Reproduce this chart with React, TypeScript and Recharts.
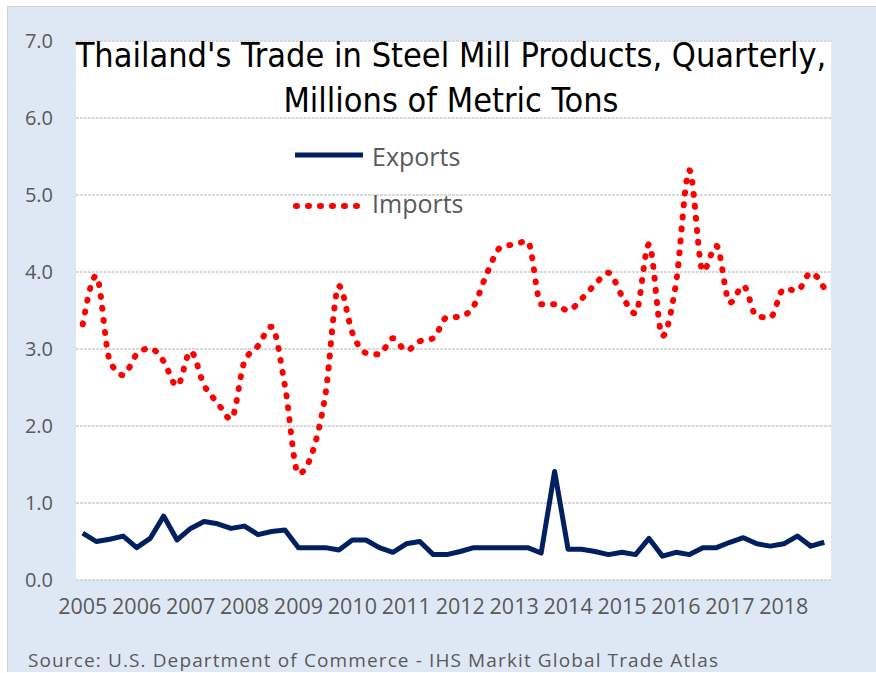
import React from "react";
import { LineChart, Line, XAxis, YAxis, CartesianGrid } from "recharts";

// quarterly, 2005 Q1 .. 2018 Q4, millions of metric tons
const years = [
  2005, 2006, 2007, 2008, 2009, 2010, 2011, 2012, 2013, 2014, 2015, 2016, 2017,
  2018,
];

const exportsMt = [
  0.61, 0.5, 0.53, 0.57, 0.42, 0.54, 0.83, 0.52, 0.67, 0.76, 0.73, 0.67, 0.7,
  0.59, 0.63, 0.65, 0.42, 0.42, 0.42, 0.39, 0.52, 0.52, 0.42, 0.36, 0.47, 0.5,
  0.33, 0.33, 0.37, 0.42, 0.42, 0.42, 0.42, 0.42, 0.35, 1.41, 0.4, 0.4, 0.37,
  0.33, 0.36, 0.33, 0.54, 0.31, 0.36, 0.33, 0.42, 0.42, 0.49, 0.55, 0.47, 0.44,
  0.47, 0.57, 0.44, 0.49,
];

const importsMt = [
  3.32, 3.95, 2.85, 2.66, 2.93, 3.01, 2.84, 2.52, 2.97, 2.53, 2.3, 2.09, 2.84,
  3.04, 3.29, 2.52, 1.38, 1.64, 2.41, 3.82, 3.21, 2.95, 2.93, 3.14, 2.98, 3.1,
  3.14, 3.41, 3.42, 3.56, 3.99, 4.32, 4.36, 4.4, 3.58, 3.58, 3.5, 3.65, 3.84,
  3.99, 3.69, 3.46, 4.36, 3.17, 3.85, 5.32, 4.01, 4.34, 3.6, 3.82, 3.42, 3.41,
  3.78, 3.76, 3.99, 3.79,
];

const yTicks = [0, 1, 2, 3, 4, 5, 6, 7];

const data = exportsMt.map((v, i) => ({
  q: i,
  label: `${years[Math.floor(i / 4)]} Q${(i % 4) + 1}`,
  exports: v,
  imports: importsMt[i],
}));

const yearTicks = years.map((_, i) => i * 4);

const W = 869;
const H = 666;
const grey = "#595959";
const tickFont = "'Open Sans', sans-serif";

export default function App() {
  return (
    <div
      style={{
        position: "absolute",
        left: 7,
        top: 6,
        width: W,
        height: H,
        background: "#dee8f4",
        borderTop: "1px solid #d0d0d0",
        borderLeft: "1px solid #d0d0d0",
        boxSizing: "border-box",
      }}
    >
      <LineChart
        width={W}
        height={H}
        data={data}
        margin={{ top: 34, right: 46, left: 0, bottom: 0 }}
      >
        <CartesianGrid
          vertical={false}
          stroke="#d9d9d9"
          strokeWidth={2}
          strokeDasharray="3 1"
          fill="#ffffff"
        />
        <XAxis
          dataKey="q"
          type="number"
          domain={[-0.5, 55.5]}
          ticks={yearTicks}
          tickFormatter={(i) => String(years[i / 4])}
          axisLine={false}
          tickLine={false}
          tickSize={0}
          tickMargin={19}
          height={93}
          interval={0}
          tick={{ fill: grey, fontSize: 21.5, fontFamily: tickFont }}
        />
        <YAxis
          domain={[0, 7]}
          ticks={yTicks}
          tickFormatter={(v) => v.toFixed(1)}
          axisLine={false}
          tickLine={false}
          tickSize={0}
          tickMargin={23}
          width={68}
          tick={{ fill: grey, fontSize: 20, fontFamily: tickFont }}
        />
        <Line
          dataKey="exports"
          name="Exports"
          type="linear"
          stroke="#002060"
          strokeWidth={5}
          strokeLinejoin="round"
          dot={false}
          activeDot={false}
          isAnimationActive={false}
        />
        <Line
          dataKey="imports"
          name="Imports"
          type="monotone"
          stroke="#ff0000"
          strokeWidth={6}
          strokeLinecap="round"
          strokeDasharray="1 11"
          dot={false}
          activeDot={false}
          isAnimationActive={false}
        />
      </LineChart>
      <svg
        width={W}
        height={H}
        style={{ position: "absolute", left: -1, top: -1, pointerEvents: "none" }}
      >
        <g
          fontFamily="'Liberation Sans Narrow', 'DejaVu Sans Condensed', sans-serif"
          fontSize={34}
          fill="#000"
          textAnchor="middle"
        >
          <text x={444} y={61}>
            Thailand's Trade in Steel Mill Products, Quarterly,
          </text>
          <text x={444} y={106}>
            Millions of Metric Tons
          </text>
        </g>
        <g fontFamily={tickFont} fontSize={25} fill={grey}>
          <line x1={288} x2={356} y1={149} y2={149} stroke="#002060" strokeWidth={5} />
          <text x={365} y={160}>
            Exports
          </text>
          <line
            x1={289}
            x2={355}
            y1={200}
            y2={200}
            stroke="#ff0000"
            strokeWidth={6}
            strokeLinecap="round"
            strokeDasharray="1 11"
          />
          <text x={365} y={207}>
            Imports
          </text>
        </g>
        <text
          x={21}
          y={661}
          fontFamily={tickFont}
          fontSize={19}
          fill={grey}
          textLength={690}
          lengthAdjust="spacing"
        >
          Source: U.S. Department of Commerce - IHS Markit Global Trade Atlas
        </text>
      </svg>
    </div>
  );
}
